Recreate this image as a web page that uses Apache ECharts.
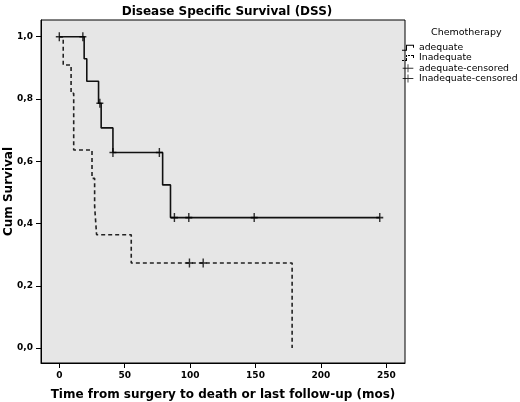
<!DOCTYPE html>
<html>
<head>
<meta charset="utf-8">
<script src="https://cdn.jsdelivr.net/npm/echarts@6/dist/echarts.min.js"></script>
<style>
html,body{margin:0;padding:0;background:#fff;}
#chart{width:520px;height:402px;}
</style>
</head>
<body>
<div id="chart"></div>
<script>
// Kaplan-Meier step data (time in months, cumulative survival)
const adequateTime = [0, 19, 21, 30, 32, 41, 79, 85, 245];
const adequateSurv = [1.0, 0.929, 0.857, 0.786, 0.707, 0.628, 0.524, 0.419, 0.419];
const inadequateTime = [0, 3, 9, 11, 25, 27, 28.5, 55, 178, 178];
const inadequateSurv = [1.0, 0.909, 0.818, 0.636, 0.545, 0.455, 0.364, 0.273, 0.273, 0.0];
// Censored observations
const adequateCensTime = [0, 18, 31, 41, 76.5, 88, 99, 149, 245];
const adequateCensSurv = [1.0, 1.0, 0.786, 0.628, 0.628, 0.419, 0.419, 0.419, 0.419];
const inadequateCensTime = [99.5, 110];
const inadequateCensSurv = [0.273, 0.273];
// Tick labels
const xTicks = [0, 50, 100, 150, 200, 250];
const yTicks = [0, 0.2, 0.4, 0.6, 0.8, 1.0];
const seriesNames = ['adequate', 'Inadequate', 'adequate-censored', 'Inadequate-censored'];

const zip = (a, b) => a.map((v, i) => [v, b[i]]);
const FONT = '"DejaVu Sans", Verdana, sans-serif';
const plusPath = 'path://M0,3.3H7V4.7H0ZM2.8,0H4.2V8H2.8Z';

const chart = echarts.init(document.getElementById('chart'), null, {renderer: 'canvas'});
chart.setOption({
  animation: false,
  backgroundColor: '#fff',
  title: [
    {text: 'Disease Specific Survival (DSS)', left: 222, top: 1, textAlign: 'center',
     textStyle: {fontFamily: FONT, fontSize: 12, fontWeight: 'bold', color: '#000'}},
    {text: 'Chemotherapy', left: 426, top: 23,
     textStyle: {fontFamily: FONT, fontSize: 9.5, fontWeight: 'normal', color: '#000'}}
  ],
  legend: {
    orient: 'vertical', left: 402, top: 43, padding: 0,
    itemWidth: 12, itemHeight: 8, itemGap: 1,
    textStyle: {fontFamily: FONT, fontSize: 9.3, color: '#000', lineHeight: 9.3},
    data: [
      {name: seriesNames[0], icon: 'path://M0,6H5V7H0ZM4,1H5V7H4ZM4,1H12V2H4ZM11,1H12V4H11Z'},
      {name: seriesNames[1], icon: 'path://M0,6H2V7H0ZM3,6H5V7H3ZM4,1H5V3H4ZM4,4H5V6H4ZM6,1H8V2H6ZM9,1H12V2H9ZM11,1H12V4H11Z'},
      {name: seriesNames[2], icon: 'path://M0,4H12V5H0ZM5.5,0H6.5V9H5.5Z'},
      {name: seriesNames[3], icon: 'path://M0,4H12V5H0ZM5.5,0H6.5V9H5.5Z'}
    ]
  },
  grid: {left: 41, right: 115, top: 20, bottom: 39, show: true, outerBoundsMode: 'none',
         backgroundColor: '#e6e6e6', borderColor: '#000', borderWidth: 1, containLabel: false},
  xAxis: {
    type: 'value', min: -14, max: 264.3,
    name: 'Time from surgery to death or last follow-up (mos)',
    nameLocation: 'middle', nameGap: 26,
    nameTextStyle: {fontFamily: FONT, fontSize: 12, fontWeight: 'bold', color: '#000'},
    axisLine: {show: true, onZero: false, lineStyle: {color: '#000', width: 1}},
    axisTick: {show: true, length: 5, inside: false, customValues: xTicks, lineStyle: {color: '#000'}},
    axisLabel: {customValues: xTicks, margin: 8, fontFamily: FONT, fontSize: 9, fontWeight: 'bold', color: '#000'},
    splitLine: {show: false}
  },
  yAxis: {
    type: 'value', min: -0.048, max: 1.0536,
    name: 'Cum Survival',
    nameLocation: 'middle', nameGap: 26, nameRotate: 90, nameMoveOverlap: false,
    nameTextStyle: {fontFamily: FONT, fontSize: 12, fontWeight: 'bold', color: '#000'},
    axisLine: {show: true, onZero: false, lineStyle: {color: '#000', width: 1}},
    axisTick: {show: true, length: 5, inside: false, customValues: yTicks, lineStyle: {color: '#000'}},
    axisLabel: {customValues: yTicks, margin: 8, fontFamily: FONT, fontSize: 9, fontWeight: 'bold', color: '#000',
                formatter: v => v.toFixed(1).replace('.', ',')},
    splitLine: {show: false}
  },
  series: [
    {name: seriesNames[0], type: 'line', step: 'end', showSymbol: false, symbol: 'none',
     data: zip(adequateTime, adequateSurv),
     itemStyle: {color: '#000'}, lineStyle: {color: '#111', width: 1.6}, z: 3},
    {name: seriesNames[1], type: 'line', step: 'end', showSymbol: false, symbol: 'none',
     data: zip(inadequateTime, inadequateSurv),
     itemStyle: {color: '#000'}, lineStyle: {color: '#222', width: 1.6, type: [4, 3]}, z: 3},
    {name: seriesNames[2], type: 'scatter', symbol: plusPath, symbolSize: [7, 9],
     data: zip(adequateCensTime, adequateCensSurv), itemStyle: {color: '#000'}, z: 4},
    {name: seriesNames[3], type: 'scatter', symbol: plusPath, symbolSize: [7, 9],
     data: zip(inadequateCensTime, inadequateCensSurv), itemStyle: {color: '#000'}, z: 4}
  ]
});
</script>
</body>
</html>
